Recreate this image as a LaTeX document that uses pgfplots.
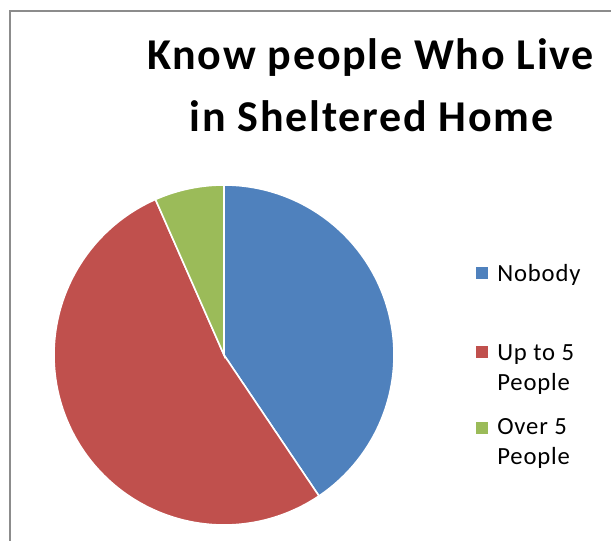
\documentclass[border=0pt]{standalone}
\usepackage{pgfplots}
\pgfplotsset{compat=1.18}
\usepackage{pgfplotstable}
\usepackage{fontspec}
\setmainfont{Carlito}
\newfontfamily\titlefont[LetterSpace=4]{Carlito}
\newfontfamily\legfont[LetterSpace=3.5]{Carlito}
\definecolor{cBlue}{HTML}{4F81BD}
\definecolor{cRed}{HTML}{C0504D}
\definecolor{cGreen}{HTML}{9BBB59}
\definecolor{cFrame}{HTML}{8C8C8C}

\pgfplotstableread{
label value
Nobody 43
UpTo5 56
Over5 7
}\piedata

\begin{document}
\begin{tikzpicture}
\pgfplotstablegetelem{0}{value}\of\piedata \let\va\pgfplotsretval
\pgfplotstablegetelem{1}{value}\of\piedata \let\vb\pgfplotsretval
\pgfplotstablegetelem{2}{value}\of\piedata \let\vc\pgfplotsretval
\pgfmathsetmacro\total{\va+\vb+\vc}
\pgfmathsetmacro\aA{90-(\va/\total)*360}
\pgfmathsetmacro\aB{\aA-(\vb/\total)*360}
\pgfmathsetmacro\aC{\aB-(\vc/\total)*360}
\begin{axis}[
  at={(0,0)}, anchor=south west,
  scale only axis, width=458.25pt, height=405.75pt,
  xmin=0, xmax=611, ymin=0, ymax=541,
  hide axis, clip=false,
]
% frame
\draw[cFrame, line width=1.1pt] (axis cs:10,0) -- (axis cs:10,530) -- (axis cs:611,530);
% pie slices (center 224,186 ; radius 170)
\addplot[fill=cBlue, draw=white, line width=1.2pt, domain=\aA:90, samples=120, variable=\t]
  ({224+170*cos(t)}, {186+170*sin(t)}) -- (axis cs:224,186) -- cycle;
\addplot[fill=cRed, draw=white, line width=1.2pt, domain=\aB:\aA, samples=160, variable=\t]
  ({224+170*cos(t)}, {186+170*sin(t)}) -- (axis cs:224,186) -- cycle;
\addplot[fill=cGreen, draw=white, line width=1.2pt, domain=\aC:\aB, samples=40, variable=\t]
  ({224+170*cos(t)}, {186+170*sin(t)}) -- (axis cs:224,186) -- cycle;
% title
\node[font=\titlefont\bfseries\fontsize{33}{40}\selectfont, anchor=base] at (axis cs:370.5,471) {Know people Who Live};
\node[font=\titlefont\bfseries\fontsize{33}{40}\selectfont, anchor=base] at (axis cs:371.5,409) {in Sheltered Home};
% legend
\fill[cBlue] (axis cs:476,262) rectangle (axis cs:488,274);
\fill[cRed] (axis cs:476,183) rectangle (axis cs:488,195);
\fill[cGreen] (axis cs:476,107) rectangle (axis cs:488,119);
\begin{scope}[every node/.style={font=\legfont\fontsize{18.5}{22}\selectfont, anchor=base west, inner sep=0pt}]
\node at (axis cs:497,259) {Nobody};
\node at (axis cs:497,180) {Up to 5};
\node at (axis cs:497,150) {People};
\node at (axis cs:497,106) {Over 5};
\node at (axis cs:497,76) {People};
\end{scope}
\end{axis}
\pgfresetboundingbox
\path[use as bounding box] (0,0) rectangle (458.25pt,405.75pt);
\end{tikzpicture}
\end{document}
